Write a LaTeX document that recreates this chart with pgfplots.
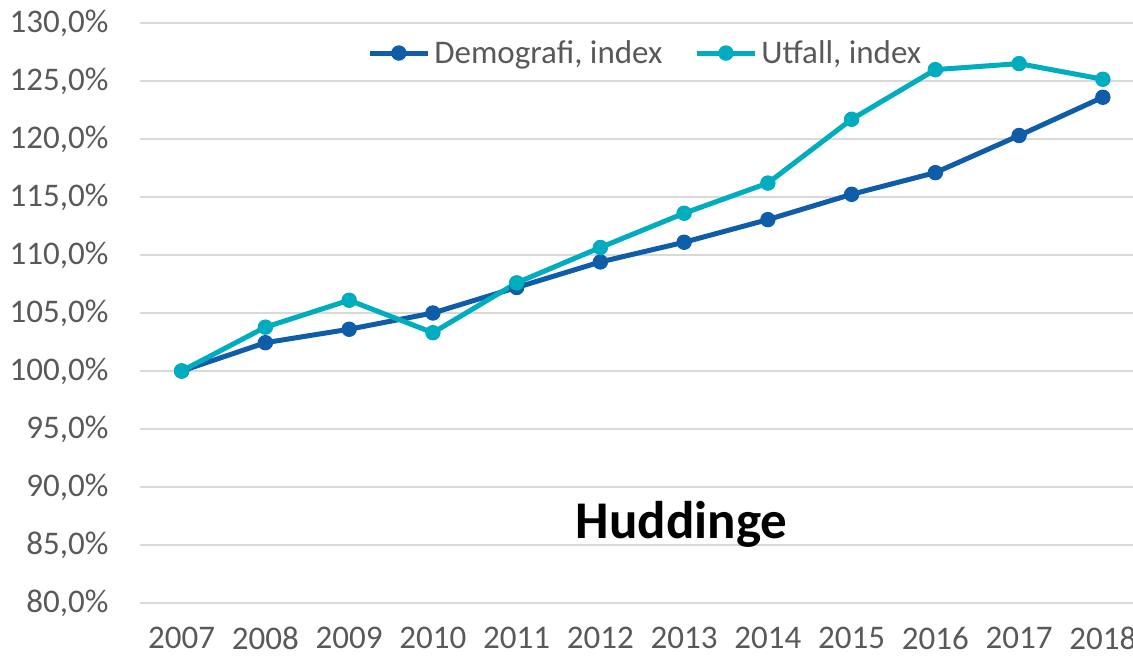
\documentclass[border=0pt]{standalone}
\usepackage{pgfplots}
\pgfplotsset{compat=1.18}
\usepackage{fontspec}
\setmainfont{Carlito}
\definecolor{demo}{HTML}{0F5CA8}
\definecolor{utf}{HTML}{00ADBF}
\definecolor{txt}{HTML}{595959}
\definecolor{gridc}{HTML}{D9D9D9}
\begin{document}
\begin{tikzpicture}
\begin{axis}[
  at={(0,0)}, anchor=south west,
  scale only axis,
  width=496.6pt, height=290pt,
  xmin=-0.5, xmax=11.36,
  ymin=80, ymax=130,
  xtick={0,...,11},
  xticklabels={2007,2008,2009,2010,2011,2012,2013,2014,2015,2016,2017,2018},
  ytick={80,85,...,130},
  yticklabels={{80,0\%},{85,0\%},{90,0\%},{95,0\%},{100,0\%},{105,0\%},{110,0\%},{115,0\%},{120,0\%},{125,0\%},{130,0\%}},
  major tick length=0pt,
  axis line style={draw=none},
  ymajorgrids,
  grid style={gridc, line width=0.75pt},
  tick label style={font=\fontsize{16.5}{18}\selectfont, text=txt, inner sep=0pt},
  yticklabel shift=15.5pt,
  xticklabel shift=12pt,
  clip=false,
  legend columns=2,
  legend style={draw=none, fill=none, at={(0.51,0.985)}, anchor=north,
    font=\fontsize{16.5}{18}\selectfont, text=txt,
    /tikz/every even column/.append style={column sep=14pt}},
  legend image code/.code={\draw[#1, mark repeat=2, mark phase=2] plot coordinates {(0pt,0pt) (14.5pt,0pt) (29pt,0pt)};},
]
\addplot[demo, line width=2.5pt, mark=*, mark size=3.6pt, mark options={solid, line width=0.5pt}] coordinates {
(0,100) (1,102.44) (2,103.6) (3,105.0) (4,107.2) (5,109.4) (6,111.1) (7,113.05) (8,115.23) (9,117.1) (10,120.3) (11,123.6)};
\addlegendentry{Demografi, index}
\addplot[utf, line width=2.5pt, mark=*, mark size=3.6pt, mark options={solid, line width=0.5pt}] coordinates {
(0,100) (1,103.78) (2,106.1) (3,103.3) (4,107.6) (5,110.65) (6,113.6) (7,116.2) (8,121.7) (9,125.98) (10,126.5) (11,125.15)};
\addlegendentry{Utfall, index}
\node[font=\bfseries\fontsize{26.5}{30}\selectfont, text=black, anchor=base, inner sep=0pt] at (axis cs:5.97,85.6) {Huddinge};
\end{axis}
\pgfresetboundingbox
\path[use as bounding box] (-69.9pt,-26.5pt) rectangle ++(566.5pt,328pt);
\end{tikzpicture}
\end{document}
